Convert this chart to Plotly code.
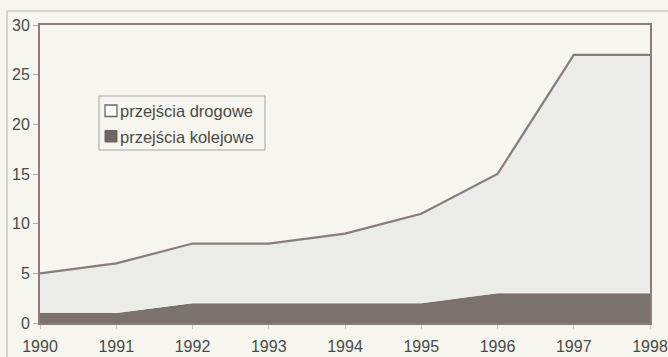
import plotly.graph_objects as go

# Border crossings, 1990-1998
years = [1990, 1991, 1992, 1993, 1994, 1995, 1996, 1997, 1998]
kolejowe = [1, 1, 2, 2, 2, 2, 3, 3, 3]          # rail crossings
drogowe = [4, 5, 6, 6, 7, 9, 12, 24, 24]        # road crossings (stacked on rail)
y_ticks = [0, 5, 10, 15, 20, 25, 30]
legend_labels = ["przejścia drogowe", "przejścia kolejowe"]

BG = "#f6f6ef"
ROAD_FILL = "#ebebe7"
RAIL_FILL = "#7b716d"
LINE = "#8a7b7e"
TEXT = "#4a4a4a"
FONT = "Arial, Liberation Sans, sans-serif"

fig = go.Figure()
fig.add_trace(go.Scatter(
    x=years, y=kolejowe, stackgroup="s", mode="lines",
    line=dict(width=0, color=RAIL_FILL), fillcolor=RAIL_FILL,
    name=legend_labels[1], showlegend=False,
))
fig.add_trace(go.Scatter(
    x=years, y=drogowe, stackgroup="s", mode="lines",
    line=dict(width=2.2, color=LINE), fillcolor=ROAD_FILL,
    name=legend_labels[0], showlegend=False,
))

W, H = 668, 357
ml, mr, mt, mb = 40, 18, 25, 34
pw, ph = W - ml - mr, H - mt - mb


def px(x):
    return (x - ml) / pw


def py(y):
    return (H - mb - y) / ph


shapes = [
    # outer frame (left and top edges)
    dict(type="line", xref="paper", yref="paper", x0=px(7), x1=px(700), y0=py(11), y1=py(11),
         line=dict(color="#cdc6c6", width=1.5)),
    dict(type="line", xref="paper", yref="paper", x0=px(7), x1=px(7), y0=py(11), y1=py(400),
         line=dict(color="#cdc6c6", width=1.5)),
    # legend box
    dict(type="rect", xref="paper", yref="paper", x0=px(99), x1=px(265), y0=py(96), y1=py(150),
         line=dict(color="#a8a0a0", width=1), fillcolor=BG),
    # legend swatches
    dict(type="rect", xref="paper", yref="paper", x0=px(105), x1=px(117), y0=py(105), y1=py(116.5),
         line=dict(color="#6f6666", width=1.3), fillcolor="#fafaf6"),
    dict(type="rect", xref="paper", yref="paper", x0=px(105), x1=px(117), y0=py(130.5), y1=py(142),
         line=dict(color="#6a6060", width=1), fillcolor="#6f6563"),
]

annotations = [
    dict(xref="paper", yref="paper", x=px(118), y=py(110.5), text=legend_labels[0],
         showarrow=False, xanchor="left", yanchor="middle",
         font=dict(family=FONT, size=16.5, color=TEXT)),
    dict(xref="paper", yref="paper", x=px(118), y=py(136.5), text=legend_labels[1],
         showarrow=False, xanchor="left", yanchor="middle",
         font=dict(family=FONT, size=16.5, color=TEXT)),
]

fig.update_layout(
    width=W, height=H,
    margin=dict(l=ml, r=mr, t=mt, b=mb, autoexpand=False),
    paper_bgcolor=BG, plot_bgcolor=BG,
    showlegend=False,
    font=dict(family=FONT, size=16, color=TEXT),
    shapes=shapes, annotations=annotations,
    xaxis=dict(
        range=[1990, 1998], tickvals=years, ticktext=[str(y) for y in years],
        showgrid=False, zeroline=False, automargin=False,
        ticks="outside", ticklen=4, tickcolor="#c8c2c2",
        ticklabelstandoff=4,
        showline=True, mirror=True, linecolor=LINE, linewidth=1.5,
    ),
    yaxis=dict(
        range=[0, 30], tickvals=y_ticks,
        showgrid=False, zeroline=False, automargin=False,
        ticks="outside", ticklen=5, tickcolor="#b8b0b0",
        showline=True, mirror=True, linecolor=LINE, linewidth=2,
    ),
)

fig.write_html("out.html")
